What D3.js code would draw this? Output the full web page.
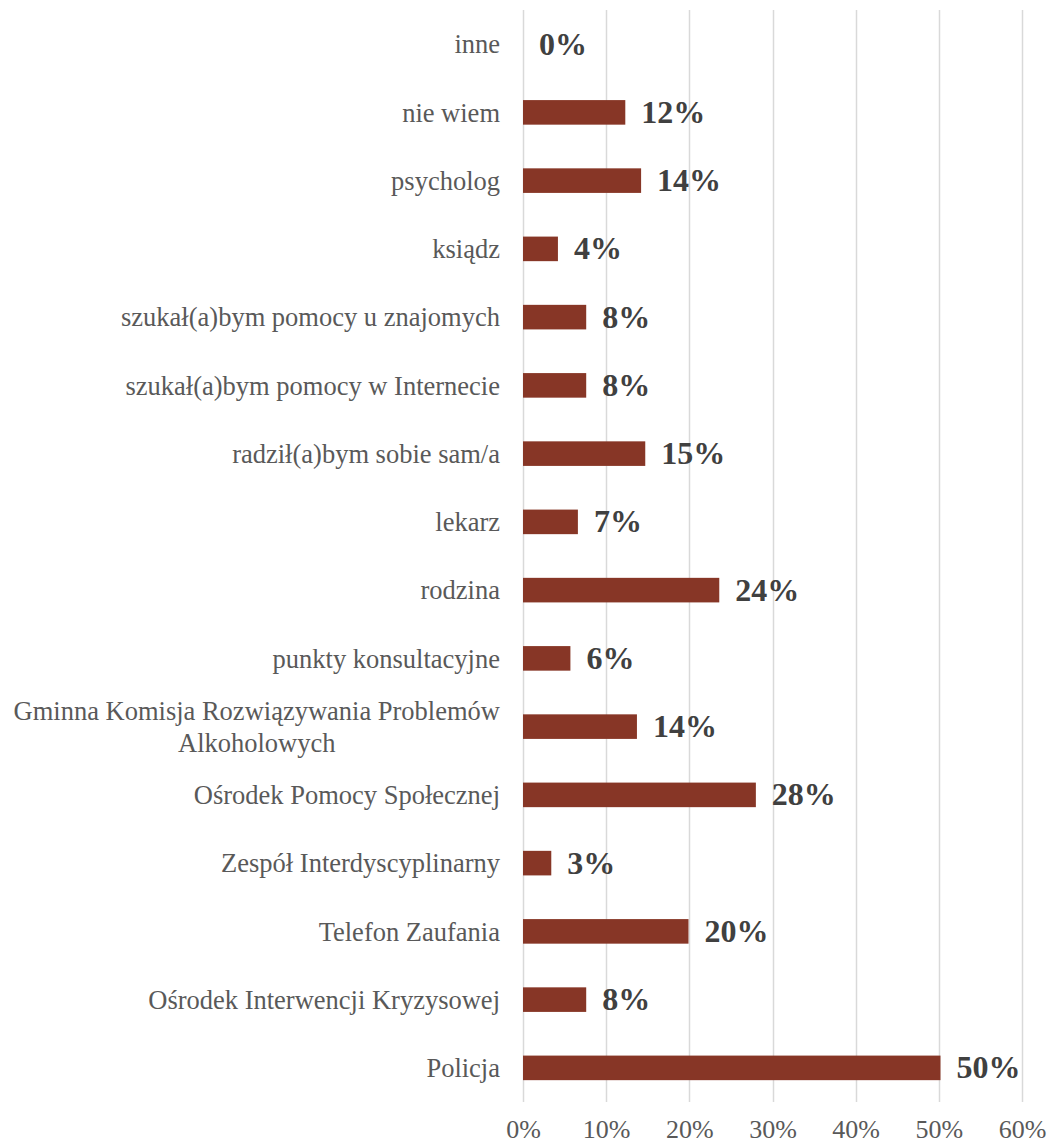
<!DOCTYPE html>
<html>
<head>
<meta charset="utf-8">
<script src="https://cdn.jsdelivr.net/npm/d3@7"></script>
<style>
    body { margin: 0; background: #fff; }
    svg { display: block; }
</style>
</head>
<body>
<div id="chart"></div>
<script>
    // Categories, top to bottom as drawn
    const categories = [
        'inne',
        'nie wiem',
        'psycholog',
        'ksiądz',
        'szukał(a)bym pomocy u znajomych',
        'szukał(a)bym pomocy w Internecie',
        'radził(a)bym sobie sam/a',
        'lekarz',
        'rodzina',
        'punkty konsultacyjne',
        'Gminna Komisja Rozwiązywania Problemów|Alkoholowych',
        'Ośrodek Pomocy Społecznej',
        'Zespół Interdyscyplinarny',
        'Telefon Zaufania',
        'Ośrodek Interwencji Kryzysowej',
        'Policja'
    ];
    // Share of answers (fraction)
    const values = [0, 0.123, 0.142, 0.042, 0.076, 0.076, 0.147, 0.066, 0.236, 0.057, 0.137, 0.28, 0.034, 0.199, 0.076, 0.502];
    const tickValues = [0, 0.1, 0.2, 0.3, 0.4, 0.5, 0.6];

    const width = 1049, height = 1148;
    const margin = { top: 10, right: 27, bottom: 46, left: 523 };
    const barColor = '#873626';
    const font = '"Liberation Serif", "Times New Roman", serif';

    const svg = d3.select('#chart').append('svg')
        .attr('width', width)
        .attr('height', height);

    const x = d3.scaleLinear()
        .domain([0, 0.6])
        .range([margin.left, width - margin.right]);

    const y = d3.scaleBand()
        .domain(categories)
        .range([margin.top, height - margin.bottom])
        .paddingInner(0.64)
        .paddingOuter(0.32);

    // Gridlines
    svg.append('g')
        .selectAll('line')
        .data(tickValues)
        .join('line')
        .attr('x1', d => Math.round(x(d)) + 0.5)
        .attr('x2', d => Math.round(x(d)) + 0.5)
        .attr('y1', margin.top)
        .attr('y2', height - margin.bottom)
        .attr('stroke', '#d9d9d9')
        .attr('stroke-width', 1.5);

    // X axis labels
    const xAxis = svg.append('g')
        .attr('transform', `translate(0,${height - margin.bottom})`)
        .call(d3.axisBottom(x).tickValues(tickValues).tickFormat(d3.format('.0%')).tickSize(0).tickPadding(18));
    xAxis.select('.domain').remove();
    xAxis.selectAll('text')
        .attr('font-family', font)
        .attr('font-size', 26)
        .attr('fill', '#595959');

    // Bars
    svg.append('g')
        .selectAll('rect')
        .data(categories)
        .join('rect')
        .attr('x', x(0))
        .attr('y', d => y(d))
        .attr('width', (d, i) => x(values[i]) - x(0))
        .attr('height', y.bandwidth())
        .attr('fill', barColor);

    // Category labels (right aligned, multi-line ones centred like Excel)
    const labelX = margin.left - 23;
    const labels = svg.append('g')
        .selectAll('text')
        .data(categories)
        .join('text')
        .attr('font-family', font)
        .attr('font-size', 26.5)
        .attr('fill', '#595959');

    labels.each(function(d) {
        const lines = d.split('|');
        const t = d3.select(this);
        const cy = y(d) + y.bandwidth() / 2;
        const lh = 32;
        lines.forEach((ln, k) => {
            t.append('tspan')
                .attr('y', cy + (k - (lines.length - 1) / 2) * lh)
                .attr('dy', '0.35em')
                .text(ln);
        });
        if (lines.length === 1) {
            t.attr('text-anchor', 'end').selectAll('tspan').attr('x', labelX);
        } else {
            let maxW = 0;
            t.selectAll('tspan').each(function() {
                maxW = Math.max(maxW, this.getComputedTextLength());
            });
            t.attr('text-anchor', 'middle').selectAll('tspan').attr('x', labelX - maxW / 2);
        }
    });

    // Value labels
    svg.append('g')
        .selectAll('text')
        .data(categories)
        .join('text')
        .attr('x', (d, i) => x(values[i]) + 16)
        .attr('y', d => y(d) + y.bandwidth() / 2)
        .attr('dy', '0.33em')
        .attr('font-family', font)
        .attr('font-size', 32)
        .attr('font-weight', 'bold')
        .attr('fill', '#404040')
        .text((d, i) => d3.format('.0%')(values[i]));
</script>
</body>
</html>
